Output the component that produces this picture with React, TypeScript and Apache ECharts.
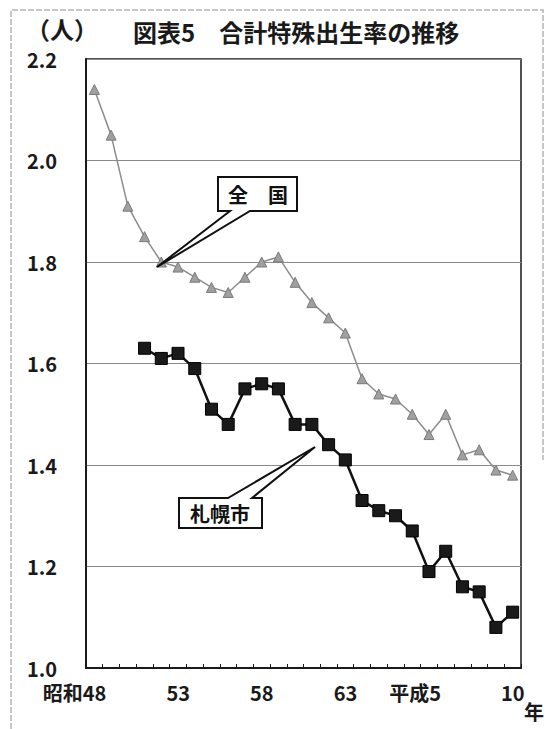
import React, { useEffect, useRef } from "react";
import * as echarts from "echarts";

const categories = [
  "1973", "1974", "1975", "1976", "1977", "1978", "1979", "1980", "1981", "1982",
  "1983", "1984", "1985", "1986", "1987", "1988", "1989", "1990", "1991", "1992",
  "1993", "1994", "1995", "1996", "1997", "1998",
];

const nationalValues = [
  2.14, 2.05, 1.91, 1.85, 1.80, 1.79, 1.77, 1.75, 1.74, 1.77,
  1.80, 1.81, 1.76, 1.72, 1.69, 1.66, 1.57, 1.54, 1.53, 1.50,
  1.46, 1.50, 1.42, 1.43, 1.39, 1.38,
];

const sapporoValues = [
  null, null, null, 1.63, 1.61, 1.62, 1.59, 1.51, 1.48, 1.55,
  1.56, 1.55, 1.48, 1.48, 1.44, 1.41, 1.33, 1.31, 1.30, 1.27,
  1.19, 1.23, 1.16, 1.15, 1.08, 1.11,
];

const xTickYears = ["1973", "1978", "1983", "1988", "1993", "1998"];
const xTickLabels = ["昭和48", "53", "58", "63", "平成5", "10"];

const titleText = "図表5　合計特殊出生率の推移";
const yUnit = "（人）";
const xUnit = "年";
const nationalName = "全　国";
const sapporoName = "札幌市";

const FONT = '"Noto Sans CJK JP", "Noto Sans", sans-serif';

export default function App() {
  const ref = useRef<HTMLDivElement>(null);

  useEffect(() => {
    document.body.style.margin = "0";
    const chart = echarts.init(ref.current!, null, { renderer: "svg" });
    const labelMap: Record<string, string> = {};
    xTickYears.forEach((y, i) => (labelMap[y] = xTickLabels[i]));

    chart.setOption({
      animation: false,
      backgroundColor: "#ffffff",
      title: {
        text: titleText,
        left: 128,
        top: 14,
        textStyle: { fontFamily: FONT, fontSize: 24, fontWeight: "bold", color: "#1a1a1a" },
      },
      grid: {
        left: 86,
        right: 24,
        top: 59,
        bottom: 61,
        show: true,
        borderColor: "#1a1a1a",
        borderWidth: 1.5,
        containLabel: false,
      },
      xAxis: {
        type: "category",
        data: categories,
        boundaryGap: true,
        axisLine: { show: true, lineStyle: { color: "#1a1a1a", width: 2 } },
        axisTick: { show: true, inside: true, length: 4, interval: 0, lineStyle: { color: "#1a1a1a", width: 1 } },
        axisLabel: {
          show: true,
          interval: (_i: number, v: string) => labelMap[v] !== undefined,
          formatter: (v: string) => labelMap[v] ?? "",
          align: "right",
          padding: [0, -12, 0, 0],
          margin: 14,
          fontFamily: FONT,
          fontSize: 20,
          fontWeight: "bold",
          color: "#1a1a1a",
        },
        splitLine: { show: false },
        name: xUnit,
        nameLocation: "end",
        nameGap: 3,
        nameTextStyle: {
          fontFamily: FONT,
          fontSize: 20,
          fontWeight: "bold",
          color: "#1a1a1a",
          align: "left",
          verticalAlign: "top",
          padding: [34, 0, 0, 0],
        },
      },
      yAxis: {
        type: "value",
        min: 1.0,
        max: 2.2,
        interval: 0.2,
        axisLine: { show: true, lineStyle: { color: "#1a1a1a", width: 2 } },
        axisTick: { show: false },
        axisLabel: {
          formatter: (v: number) => v.toFixed(1),
          margin: 29,
          fontFamily: FONT,
          fontSize: 20,
          fontWeight: "bold",
          color: "#1a1a1a",
        },
        splitLine: { show: true, lineStyle: { color: "#8a8a8a", width: 1 } },
        name: yUnit,
        nameLocation: "end",
        nameGap: 31,
        nameTextStyle: {
          fontFamily: FONT,
          fontSize: 24,
          fontWeight: "bold",
          color: "#1a1a1a",
          align: "center",
          verticalAlign: "middle",
          padding: [0, 48, 0, 0],
        },
      },
      series: [
        {
          name: "全国",
          type: "line",
          data: nationalValues,
          symbol: "triangle",
          symbolSize: 10,
          showSymbol: true,
          showAllSymbol: true,
          lineStyle: { color: "#8c8c8c", width: 1.5 },
          itemStyle: { color: "#a0a0a0", borderColor: "#7a7a7a", borderWidth: 1 },
          z: 3,
        },
        {
          name: "札幌市",
          type: "line",
          data: sapporoValues,
          symbol: "rect",
          symbolSize: 12,
          showSymbol: true,
          showAllSymbol: true,
          lineStyle: { color: "#111111", width: 2.5 },
          itemStyle: { color: "#1a1a1a", borderColor: "#000000", borderWidth: 1 },
          z: 4,
        },
      ],
      graphic: [
        {
          type: "polyline",
          silent: true,
          shape: { points: [[11, 729], [11, 10], [543, 10], [543, 460]] },
          style: { stroke: "#b5b5b5", lineWidth: 1.5, lineDash: [6, 2], fill: null },
          z: 1,
        },
        {
          type: "polygon",
          shape: {
            points: [
              [218, 177], [297, 177], [297, 211], [250, 211], [157, 267], [230, 211], [218, 211],
            ],
          },
          style: { fill: "#ffffff", stroke: "#111111", lineWidth: 2 },
          z: 100,
        },
        {
          type: "text",
          x: 258,
          y: 194,
          style: {
            text: nationalName,
            fontFamily: FONT,
            fontSize: 20,
            fontWeight: "bold",
            fill: "#111111",
            align: "center",
            verticalAlign: "middle",
          },
          z: 101,
        },
        {
          type: "polygon",
          shape: {
            points: [
              [179, 498], [228, 498], [315, 447], [252, 498], [262, 498], [262, 528], [179, 528],
            ],
          },
          style: { fill: "#ffffff", stroke: "#111111", lineWidth: 2 },
          z: 100,
        },
        {
          type: "text",
          x: 220,
          y: 513,
          style: {
            text: sapporoName,
            fontFamily: FONT,
            fontSize: 20,
            fontWeight: "bold",
            fill: "#111111",
            align: "center",
            verticalAlign: "middle",
          },
          z: 101,
        },
      ],
    });

    return () => chart.dispose();
  }, []);

  return (
    <div
      ref={ref}
      style={{ position: "fixed", left: 0, top: 0, width: 547, height: 729 }}
    />
  );
}
